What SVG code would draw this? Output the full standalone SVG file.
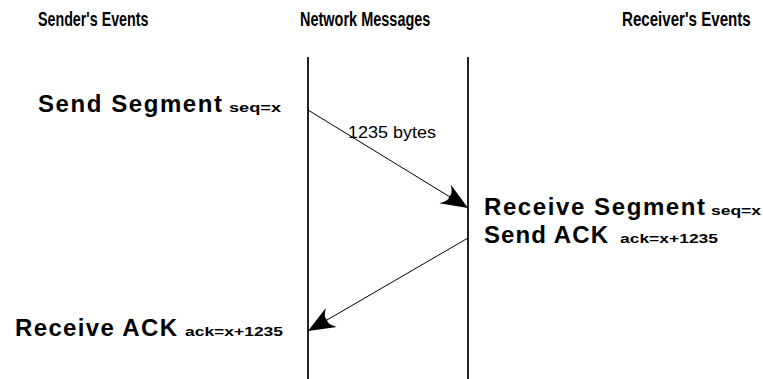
<svg xmlns="http://www.w3.org/2000/svg" width="763" height="379" viewBox="0 0 763 379">
  <style>
    .hdr { font-family: "Liberation Sans", Arial, sans-serif; font-weight: bold; font-size: 21px; fill: #000; }
    .ev { font-family: "Liberation Sans", Arial, sans-serif; font-weight: bold; font-size: 24px; fill: #000; }
    .sub { font-family: "Liberation Sans", Arial, sans-serif; font-weight: bold; font-size: 13px; fill: #000; }
    .lbl { font-family: "Liberation Sans", Arial, sans-serif; font-size: 17px; fill: #000; }
    .life { stroke: #222; stroke-width: 2; fill: none; }
    .msg { stroke: #000; stroke-width: 1; fill: none; }
  </style>
  <defs>
    <marker id="head" markerUnits="userSpaceOnUse" markerWidth="32" markerHeight="24" refX="27" refY="11" orient="auto">
      <path d="M27,11 L0,0 Q7,7 5,11 Q7,15 0,22 Z" fill="#000"/>
    </marker>
  </defs>
  <rect width="763" height="379" fill="#fff"/>

  <!-- column headings, set in a condensed face -->
  <g id="headings">
    <text class="hdr" transform="translate(38,26) scale(0.68,1)">Sender's Events</text>
    <text class="hdr" transform="translate(300,26) scale(0.69,1)">Network Messages</text>
    <text class="hdr" transform="translate(622,26) scale(0.72,1)">Receiver's Events</text>
  </g>

  <!-- sender and receiver timelines -->
  <g id="timelines">
    <line class="life" x1="308" y1="57" x2="308" y2="379"/>
    <line class="life" x1="468" y1="57" x2="468" y2="379"/>
  </g>

  <!-- message arrows -->
  <g id="connectors">
    <line class="msg" x1="308" y1="110" x2="468" y2="208" marker-end="url(#head)"/>
    <text class="lbl" x="348" y="138" textLength="88" lengthAdjust="spacingAndGlyphs">1235 bytes</text>
    <line class="msg" x1="468" y1="238" x2="308" y2="331" marker-end="url(#head)"/>
  </g>

  <g id="send-segment">
    <text class="ev" x="38" y="112" textLength="184" lengthAdjust="spacing">Send Segment</text>
    <text class="sub" x="229" y="112" textLength="52" lengthAdjust="spacingAndGlyphs">seq=x</text>
  </g>

  <g id="receive-segment">
    <text class="ev" x="484" y="215" textLength="221" lengthAdjust="spacing">Receive Segment</text>
    <text class="sub" x="711" y="215" textLength="50" lengthAdjust="spacingAndGlyphs">seq=x</text>
  </g>

  <g id="send-ack">
    <text class="ev" x="484" y="243" textLength="124" lengthAdjust="spacing">Send ACK</text>
    <text class="sub" x="620" y="243" textLength="98" lengthAdjust="spacingAndGlyphs">ack=x+1235</text>
  </g>

  <g id="receive-ack">
    <text class="ev" x="15" y="336" textLength="162" lengthAdjust="spacing">Receive ACK</text>
    <text class="sub" x="185" y="336" textLength="98" lengthAdjust="spacingAndGlyphs">ack=x+1235</text>
  </g>
</svg>
